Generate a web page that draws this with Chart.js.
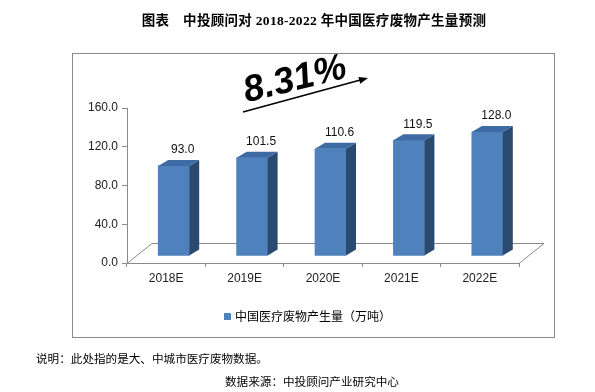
<!DOCTYPE html>
<html><head><meta charset="utf-8">
<script src="https://cdn.jsdelivr.net/npm/chart.js@4/dist/chart.umd.min.js"></script>
<style>
html,body{margin:0;padding:0;background:#fff;}
#wrap{position:relative;width:595px;height:392px;overflow:hidden;}
canvas{position:absolute;left:0;top:0;}
.t{position:absolute;white-space:nowrap;color:#000;font-family:"Noto Sans CJK SC",sans-serif;}
#title{left:0;width:628px;text-align:center;top:9px;font-size:13.5px;font-weight:bold;letter-spacing:0.3px;font-family:"Liberation Serif","Noto Sans CJK SC",serif;}
#legend{left:224px;top:307px;font-size:12px;line-height:17px;}
#legend i{display:inline-block;width:7px;height:7px;background:#4F81BD;margin-right:4px;vertical-align:1px;}
#note{left:36px;top:350px;font-size:11.6px;}
#src{left:225px;top:373px;font-size:11.6px;}
</style></head>
<body><div id="wrap">
<canvas id="c" width="595" height="392"></canvas>
<div class="t" id="title">图表　中投顾问对 2018-2022 年中国医疗废物产生量预测</div>
<div class="t" id="legend"><i></i><span id="legText"></span></div>
<div class="t" id="note">说明：此处指的是大、中城市医疗废物数据。</div>
<div class="t" id="src">数据来源：中投顾问产业研究中心</div>
</div>
<script>
const categories = ['2018E','2019E','2020E','2021E','2022E'];
const values = [93.0, 101.5, 110.6, 119.5, 128.0];
const yTicks = [0, 40, 80, 120, 160];
const seriesName = '中国医疗废物产生量（万吨）';
const cagrLabel = '8.31%';

document.getElementById('legText').textContent = seriesName;

const FRONT = '#4F81BD', SIDE = '#2B4A70', TOP = '#3E6BA3';
const SHIFT_X = 7.5, SHIFT_Y = -7, DX = 10, DY = -6;

const deco = {
  id: 'deco',
  beforeDraw(chart) {
    const ctx = chart.ctx;
    ctx.save();
    ctx.fillStyle = '#fff';
    ctx.fillRect(0, 0, chart.width, chart.height);
    ctx.strokeStyle = '#8a8a8a';
    ctx.lineWidth = 1;
    ctx.strokeRect(72.5, 53.5, 482, 284);
    ctx.restore();
  },
  beforeDatasetsDraw(chart) {
    const ctx = chart.ctx, a = chart.chartArea;
    const backY = a.bottom - 20, dx = 25;
    ctx.save();
    ctx.strokeStyle = '#8a8a8a';
    ctx.lineWidth = 1;
    ctx.beginPath();
    ctx.moveTo(a.left, a.bottom + 0.5);
    ctx.lineTo(a.left + dx, backY + 0.5);
    ctx.lineTo(a.right + dx, backY + 0.5);
    ctx.lineTo(a.right, a.bottom + 0.5);
    ctx.stroke();
    ctx.restore();
    ctx.save();
    ctx.translate(SHIFT_X, SHIFT_Y);
  },
  afterDatasetsDraw(chart) {
    const ctx = chart.ctx;
    const meta = chart.getDatasetMeta(0);
    meta.data.forEach(el => {
      const w = el.width, xl = el.x - w / 2, xr = el.x + w / 2, y = el.y, b = el.base;
      ctx.fillStyle = SIDE;
      ctx.beginPath();
      ctx.moveTo(xr, y); ctx.lineTo(xr + DX, y + DY); ctx.lineTo(xr + DX, b + DY); ctx.lineTo(xr, b);
      ctx.closePath(); ctx.fill();
      ctx.fillStyle = TOP;
      ctx.beginPath();
      ctx.moveTo(xl, y); ctx.lineTo(xr, y); ctx.lineTo(xr + DX, y + DY); ctx.lineTo(xl + DX, y + DY);
      ctx.closePath(); ctx.fill();
    });
    ctx.restore();
    ctx.save();
    ctx.font = '12px "Liberation Sans", Arial, sans-serif';
    ctx.fillStyle = '#111';
    ctx.textAlign = 'center';
    ctx.textBaseline = 'middle';
    meta.data.forEach((el, i) => {
      ctx.fillText(values[i].toFixed(1), el.x + SHIFT_X + 9, el.y + SHIFT_Y - 16);
    });
    ctx.restore();
  },
  afterDraw(chart) {
    const ctx = chart.ctx;
    ctx.save();
    // arrow
    const x1 = 243, y1 = 112, x2 = 368, y2 = 78;
    const ang = Math.atan2(y2 - y1, x2 - x1);
    ctx.strokeStyle = '#000'; ctx.fillStyle = '#000'; ctx.lineWidth = 1.6;
    ctx.beginPath(); ctx.moveTo(x1, y1); ctx.lineTo(x2 - 6 * Math.cos(ang), y2 - 6 * Math.sin(ang)); ctx.stroke();
    ctx.beginPath();
    ctx.moveTo(x2, y2);
    ctx.lineTo(x2 - 9 * Math.cos(ang) + 3.5 * Math.sin(ang), y2 - 9 * Math.sin(ang) - 3.5 * Math.cos(ang));
    ctx.lineTo(x2 - 9 * Math.cos(ang) - 3.5 * Math.sin(ang), y2 - 9 * Math.sin(ang) + 3.5 * Math.cos(ang));
    ctx.closePath(); ctx.fill();
    // CAGR label
    ctx.translate(295, 80);
    ctx.rotate(-14 * Math.PI / 180);
    ctx.font = 'italic bold 37px "Liberation Sans", Arial, sans-serif';
    ctx.textAlign = 'center'; ctx.textBaseline = 'middle';
    ctx.fillText(cagrLabel, 0, 0);
    ctx.restore();
  }
};

new Chart(document.getElementById('c'), {
  type: 'bar',
  data: {
    labels: categories,
    datasets: [{ label: seriesName, data: values, backgroundColor: FRONT, barThickness: 31 }]
  },
  options: {
    responsive: false,
    animation: false,
    devicePixelRatio: 1,
    layout: { padding: { left: 0, right: 76, top: 108, bottom: 99 } },
    plugins: { legend: { display: false }, tooltip: { enabled: false } },
    scales: {
      y: {
        min: 0, max: 160,
        afterBuildTicks: s => { s.ticks = yTicks.map(v => ({ value: v })); },
        afterFit: s => { s.width = 127; },
        ticks: { callback: v => Number(v).toFixed(1), color: '#222', padding: 4,
                 font: { family: '"Liberation Sans", Arial, sans-serif', size: 12 } },
        grid: { drawOnChartArea: false, tickLength: 5, color: '#8a8a8a' },
        border: { color: '#8a8a8a' }
      },
      x: {
        afterFit: s => { s.height = 30; },
        ticks: { color: '#222', padding: 4,
                 font: { family: '"Liberation Sans", Arial, sans-serif', size: 12 } },
        grid: { drawOnChartArea: false, tickLength: 4, color: '#8a8a8a' },
        border: { color: '#8a8a8a' }
      }
    }
  },
  plugins: [deco]
});
</script>
</body></html>
